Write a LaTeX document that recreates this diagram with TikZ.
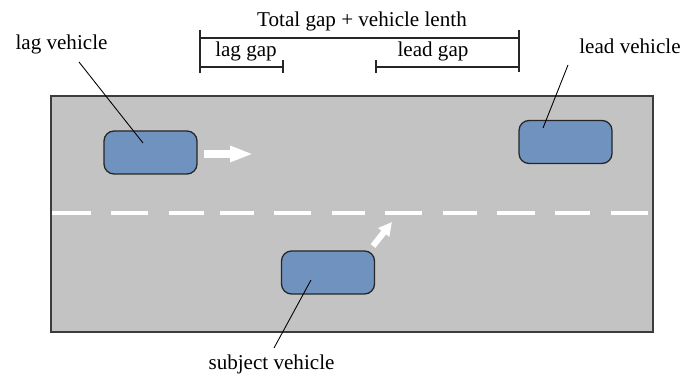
\documentclass[tikz,border=0pt]{standalone}
\usepackage{fontspec}
\setmainfont{Liberation Serif}
\usetikzlibrary{arrows.meta,positioning}
\definecolor{roadgray}{RGB}{195,195,195}
\definecolor{carblue}{RGB}{112,146,190}
\definecolor{edgegray}{RGB}{60,60,60}
\tikzset{
  vehicle/.style={draw=black!85,fill=carblue,line width=1.1pt,rounded corners=0.3cm,
    minimum width=2.79cm,minimum height=1.29cm,inner sep=0pt},
  lbl/.style={font=\fontsize{18}{21}\selectfont,inner sep=0pt},
  pointer/.style={line width=0.75pt},
  dim/.style={line width=1.1pt,black!85},
  lane/.style={white,line width=0.12cm},
  move/.style={white,line width=0.24cm,-{Triangle[length=0.69cm,width=0.45cm]}},
  smallmove/.style={white,line width=0.18cm,-{Triangle[length=0.4cm,width=0.4cm]}}
}
\begin{document}
\begin{tikzpicture}[x=0.03cm,y=-0.03cm]
    \useasboundingbox (0,0) rectangle (683,376);

    % road
    \draw[fill=roadgray,draw=edgegray,line width=1.3pt] (51,96) rectangle (653,332);
    \foreach \a/\b in {52/91,111/148,169/204,220/254,274/311,332/365,
                       385/422,443/477,497/535,555/590,611/648}
      \draw[lane] (\a,213) -- (\b,213);

    % vehicles
    \node[vehicle] (lag) at (150.5,152.5) {};
    \node[vehicle] (lead) at (565.5,142) {};
    \node[vehicle] (subject) at (328,272.5) {};

    \coordinate (lagtail) at (204,154);
    \coordinate (laghead) at (253,154);
    \draw[move] (lagtail) -- (laghead);

    \coordinate (subjtail) at (373,246);
    \coordinate (subjhead) at (392,222);
    \draw[smallmove] (subjtail) -- (subjhead);

    % labels
    \node[lbl] (laglabel) at (61.5,44) {lag vehicle};
    \node[lbl] (leadlabel) at (630,46) {lead vehicle};
    \node[lbl] (subjlabel) at (271.5,364) {subject vehicle};

    \coordinate (lagfoot) at (79,62);
    \coordinate (lagtip) at (143,143);
    \draw[pointer] (lagfoot) -- (lagtip);
    \coordinate (leadfoot) at (568,65);
    \coordinate (leadtip) at (543,128);
    \draw[pointer] (leadfoot) -- (leadtip);
    \coordinate (subjfoot) at (274,348);
    \coordinate (subjtip) at (311,280);
    \draw[pointer] (subjfoot) -- (subjtip);

    % gaps
    \node[lbl] (total) at (362,21) {Total gap + vehicle lenth};
    \node[lbl] (laggap) at (246,51) {lag gap};
    \node[lbl] (leadgap) at (433,51) {lead gap};

    \draw[dim] (200,30) -- (200,73);
    \draw[dim] (519,30) -- (519,72);
    \draw[dim] (200,38) -- (519,38);
    \draw[dim] (200,67) -- (283,67);
    \draw[dim] (283,60) -- (283,73);
    \draw[dim] (376,67) -- (519,67);
    \draw[dim] (376,60) -- (376,73);
\end{tikzpicture}
\end{document}
